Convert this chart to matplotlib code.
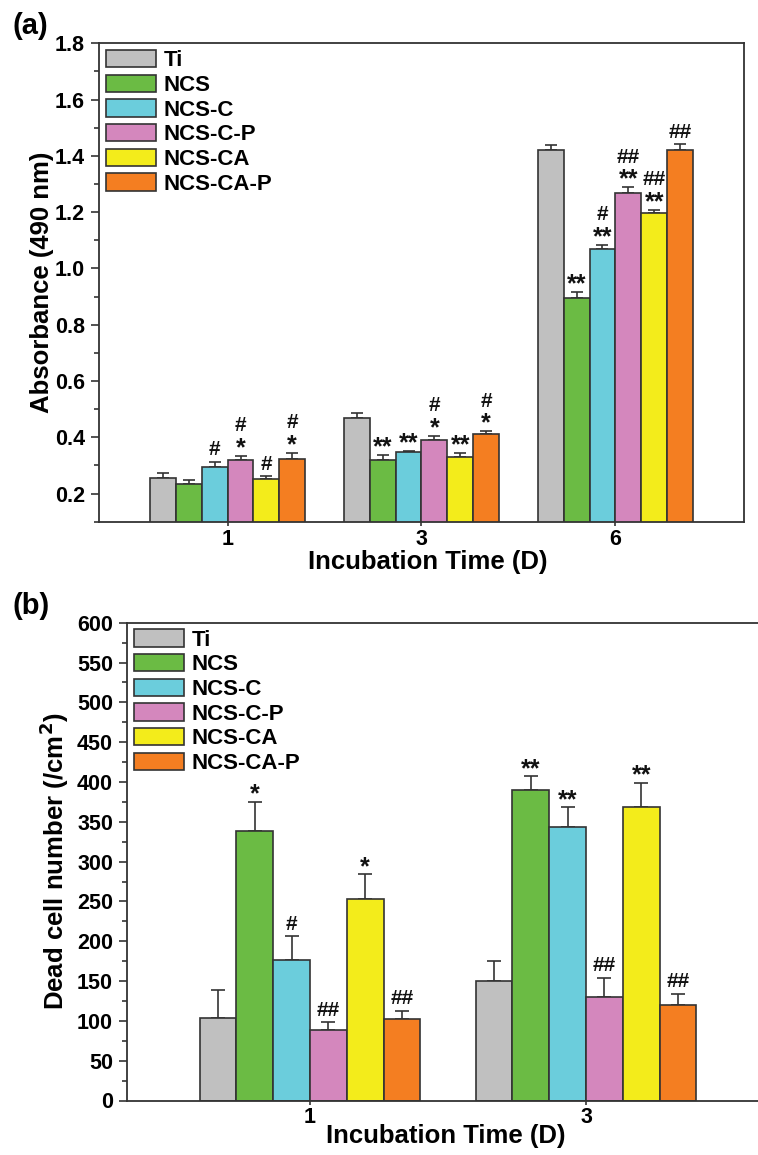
import matplotlib
matplotlib.use("Agg")
import matplotlib.pyplot as plt
import numpy as np
from matplotlib.ticker import MultipleLocator, FormatStrFormatter

plt.rcParams['font.family'] = ['Liberation Sans', 'DejaVu Sans']
plt.rcParams['font.weight'] = 'bold'

groups = ["Ti", "NCS", "NCS-C", "NCS-C-P", "NCS-CA", "NCS-CA-P"]
colors = ["#C0C0C0", "#6BBB44", "#6BCDDC", "#D487BD", "#F3EC1B", "#F47E21"]

# Panel (a): absorbance (490 nm)
days_a = ["1", "3", "6"]
abs_vals = {
    "Ti":       [0.255, 0.469, 1.421],
    "NCS":      [0.233, 0.318, 0.895],
    "NCS-C":    [0.296, 0.349, 1.068],
    "NCS-C-P":  [0.319, 0.392, 1.269],
    "NCS-CA":   [0.253, 0.330, 1.197],
    "NCS-CA-P": [0.324, 0.412, 1.422],
}
abs_err = {
    "Ti":       [0.019, 0.018, 0.016],
    "NCS":      [0.016, 0.019, 0.021],
    "NCS-C":    [0.017, 0.004, 0.017],
    "NCS-C-P":  [0.016, 0.013, 0.020],
    "NCS-CA":   [0.009, 0.015, 0.011],
    "NCS-CA-P": [0.021, 0.010, 0.019],
}
abs_sig = {
    "Ti":       [[], [], []],
    "NCS":      [[], ["**"], ["**"]],
    "NCS-C":    [["#"], ["**"], ["**", "#"]],
    "NCS-C-P":  [["*", "#"], ["*", "#"], ["**", "##"]],
    "NCS-CA":   [["#"], ["**"], ["**", "##"]],
    "NCS-CA-P": [["*", "#"], ["*", "#"], ["##"]],
}

# Panel (b): dead cell number
days_b = ["1", "3"]
dead_vals = {
    "Ti":       [103, 150],
    "NCS":      [338, 390],
    "NCS-C":    [176, 344],
    "NCS-C-P":  [88, 130],
    "NCS-CA":   [253, 369],
    "NCS-CA-P": [102, 120],
}
dead_err = {
    "Ti":       [36, 25],
    "NCS":      [37, 17],
    "NCS-C":    [30, 24],
    "NCS-C-P":  [10, 24],
    "NCS-CA":   [31, 30],
    "NCS-CA-P": [11, 14],
}
dead_sig = {
    "Ti":       [[], []],
    "NCS":      [["*"], ["**"]],
    "NCS-C":    [["#"], ["**"]],
    "NCS-C-P":  [["##"], ["##"]],
    "NCS-CA":   [["*"], ["**"]],
    "NCS-CA-P": [["##"], ["##"]],
}

W, H = 758, 1155
fig = plt.figure(figsize=(W / 100, H / 100), dpi=100)
PX2PT = 72 / 100.0

def px_axes(l, t, r, b):
    return fig.add_axes([l / W, 1 - b / H, (r - l) / W, (b - t) / H])

edge = "#333333"
STAR_FS = 18
HASH_FS = 15

def sym_baseline_px(sym, center_px):
    if sym.startswith("*"):
        return center_px - 0.40 * STAR_FS / PX2PT
    return center_px - 0.36 * HASH_FS / PX2PT

def draw_panel(ax, days, vals, errs, sigs, capsize):
    n = len(groups)
    width = 0.8 / n
    x = np.arange(len(days))
    for i, g in enumerate(groups):
        xpos = x + (i - (n - 1) / 2) * width
        v = np.array(vals[g])
        e = np.array(errs[g])
        ax.bar(xpos, v, width, color=colors[i], edgecolor=edge, linewidth=1.2,
               label=g, zorder=2)
        ax.errorbar(xpos, v, yerr=[np.zeros_like(e), e], fmt='none',
                    ecolor=edge, elinewidth=1.2, capsize=capsize, capthick=1.2,
                    zorder=1)
        for j in range(len(days)):
            center = None
            for k, s in enumerate(sigs[g][j]):
                star = s.startswith("*")
                if center is None:
                    center = 10.5 if star else 14.0
                else:
                    center += 21.5
                off = sym_baseline_px(s, center) * PX2PT
                ax.annotate(s, (xpos[j], v[j] + e[j]), xytext=(0, off),
                            textcoords='offset points', ha='center',
                            va='baseline', fontsize=STAR_FS if star else HASH_FS,
                            fontweight='bold', color='#111111')
    ax.set_xticks(x)
    ax.set_xticklabels(days)
    ax.set_xlim(-0.663, len(days) - 1 + 0.663)
    for sp in ax.spines.values():
        sp.set_color(edge)
        sp.set_linewidth(1.3)
    ax.tick_params(axis='both', which='major', direction='out', length=6,
                   width=1.2, color=edge, labelsize=15.5, pad=4)
    ax.tick_params(axis='y', which='minor', direction='out', length=3.5,
                   width=1.2, color=edge)
    ax.tick_params(axis='x', which='major', length=3, pad=2)
    for lab in ax.get_xticklabels() + ax.get_yticklabels():
        lab.set_fontweight('bold')
    leg = ax.legend(loc='upper left', frameon=False, fontsize=16,
                    handlelength=2.25, handleheight=0.82, labelspacing=0.15,
                    handletextpad=0.35, borderaxespad=0.0, borderpad=0.3)
    for t in leg.get_texts():
        t.set_fontweight('bold')
    for p in leg.get_patches():
        p.set_edgecolor(edge)
        p.set_linewidth(1.2)

# Panel (a)
ax1 = px_axes(99, 43.3, 744, 521.7)
draw_panel(ax1, days_a, abs_vals, abs_err, abs_sig, capsize=4)
ax1.set_ylim(0.1, 1.8)
ax1.yaxis.set_major_locator(MultipleLocator(0.2))
ax1.yaxis.set_minor_locator(MultipleLocator(0.1))
ax1.yaxis.set_major_formatter(FormatStrFormatter('%.1f'))
ax1.set_ylabel("Absorbance (490 nm)", fontsize=18.5, fontweight='bold', va='center')
ax1.set_xlabel("Incubation Time (D)", fontsize=18.5, fontweight='bold', va='center')
ax1.yaxis.set_label_coords(-0.088, 0.5)
ax1.xaxis.set_label_coords(0.51, -0.084)

# Panel (b)
ax2 = px_axes(127, 622.7, 769, 1100.5)
draw_panel(ax2, days_b, dead_vals, dead_err, dead_sig, capsize=5)
ax2.spines['right'].set_visible(False)
ax2.set_ylim(0, 600)
ax2.yaxis.set_major_locator(MultipleLocator(50))
ax2.yaxis.set_minor_locator(MultipleLocator(25))
ax2.set_ylabel("Dead cell number (/cm$^\\mathbf{2}$)", fontsize=18.5, fontweight='bold', va='center')
ax2.set_xlabel("Incubation Time (D)", fontsize=18.5, fontweight='bold', va='center')
ax2.yaxis.set_label_coords(-0.113, 0.5)
ax2.xaxis.set_label_coords(0.497, -0.074)

fig.text(12 / W, 1 - 26 / H, "(a)", fontsize=21, fontweight='bold', va='center', ha='left')
fig.text(12 / W, 1 - 606 / H, "(b)", fontsize=21, fontweight='bold', va='center', ha='left')

fig.savefig("out.png", dpi=100, facecolor='white')
